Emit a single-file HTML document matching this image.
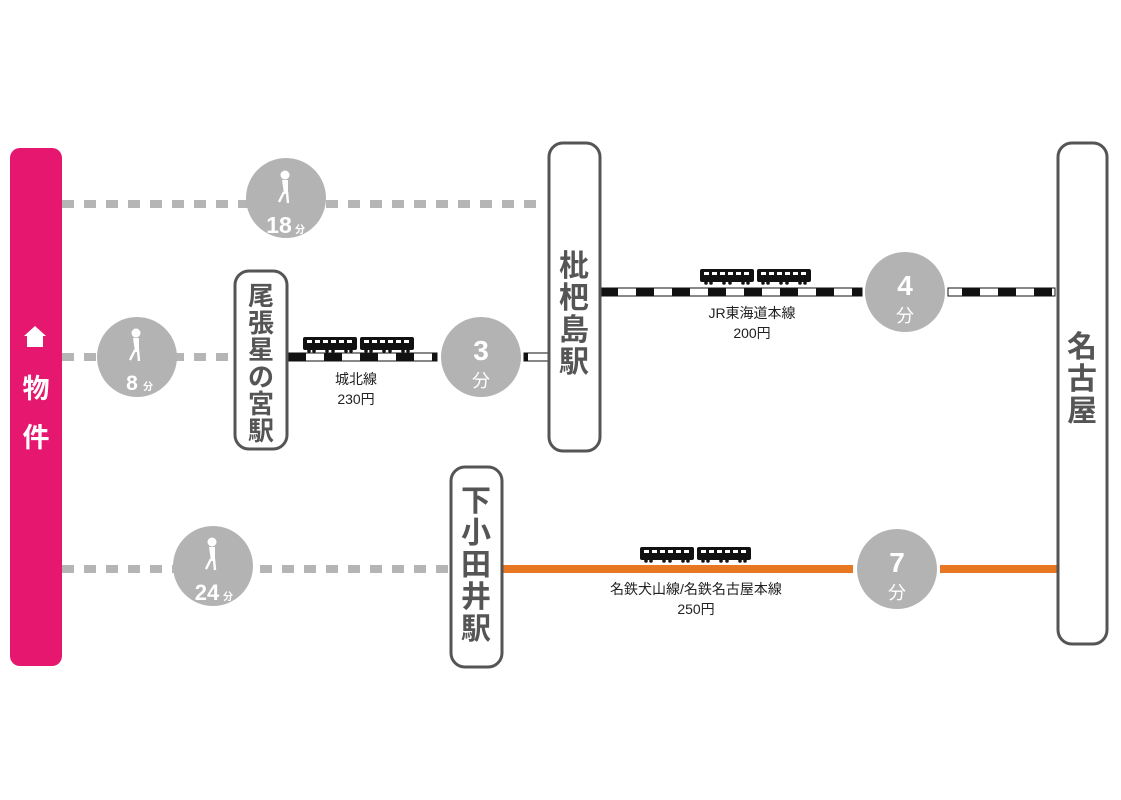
<!DOCTYPE html>
<html><head><meta charset="utf-8"><style>
html,body{margin:0;padding:0;background:#fff;}
svg{display:block;font-family:"Liberation Sans","Noto Sans CJK JP",sans-serif;}
</style></head><body>
<svg width="1121" height="800" viewBox="0 0 1121 800" xmlns="http://www.w3.org/2000/svg">
<defs>
<g id="car">
<rect x="0" y="0" width="54" height="13" rx="2" fill="#111"/>
<rect x="4" y="3" width="5" height="3" fill="#fff"/><rect x="12" y="3" width="5" height="3" fill="#fff"/><rect x="20" y="3" width="5" height="3" fill="#fff"/><rect x="28" y="3" width="5" height="3" fill="#fff"/><rect x="36" y="3" width="5" height="3" fill="#fff"/><rect x="44" y="3" width="5" height="3" fill="#fff"/>
<circle cx="6" cy="14" r="1.8" fill="#111"/><circle cx="11" cy="14" r="1.8" fill="#111"/><circle cx="24" cy="14" r="1.8" fill="#111"/><circle cx="30" cy="14" r="1.8" fill="#111"/><circle cx="43" cy="14" r="1.8" fill="#111"/><circle cx="48" cy="14" r="1.8" fill="#111"/>
</g>
<g id="train"><use href="#car"/><use href="#car" x="57"/></g>
<g id="walker" fill="#fff" stroke="#fff">
<circle cx="0" cy="-14" r="4.5" stroke="none"/>
<path d="M-3,-9 L3,-9 L3,5 L-1,5 Z" stroke="none"/>
<path d="M-1,3 L-6,13 M2,3 L3,14" stroke-width="2.4" fill="none"/>
</g>
</defs>

<rect x="10" y="148" width="52" height="518" rx="10" fill="#e5176f"/>
<path d="M35,326 L24,336 L27,336 L27,347 L43,347 L43,336 L46,336 Z" fill="#fff"/>
<text x="36" y="398" font-size="27" font-weight="bold" fill="#fff" text-anchor="middle">物</text>
<text x="36" y="447" font-size="27" font-weight="bold" fill="#fff" text-anchor="middle">件</text>

<g stroke="#b5b5b5" stroke-width="8" stroke-dasharray="12 10">
<line x1="62" y1="204" x2="545" y2="204"/>
<line x1="62" y1="357" x2="232" y2="357"/>
<line x1="62" y1="569" x2="450" y2="569"/>
</g>

<g>
<rect x="288" y="353" width="149" height="8" fill="#fff" stroke="#111" stroke-width="1"/>
<line x1="288" y1="357" x2="437" y2="357" stroke="#111" stroke-width="8" stroke-dasharray="18 18"/>
<rect x="524" y="353" width="24" height="8" fill="#fff" stroke="#111" stroke-width="1"/>
<line x1="524" y1="357" x2="528" y2="357" stroke="#111" stroke-width="8"/>
<rect x="600" y="288" width="262" height="8" fill="#fff" stroke="#111" stroke-width="1"/>
<line x1="600" y1="292" x2="862" y2="292" stroke="#111" stroke-width="8" stroke-dasharray="18 18"/>
<rect x="948" y="288" width="107" height="8" fill="#fff" stroke="#111" stroke-width="1"/>
<line x1="962" y1="292" x2="1055" y2="292" stroke="#111" stroke-width="8" stroke-dasharray="18 18"/>
</g>
<rect x="502" y="565" width="351" height="8" fill="#e87722"/>
<rect x="940" y="565" width="117" height="8" fill="#e87722"/>

<use href="#train" x="303" y="337"/>
<use href="#train" x="700" y="269"/>
<use href="#train" x="640" y="547"/>

<g font-size="14" fill="#222" text-anchor="middle">
<text x="356" y="384">城北線</text><text x="356" y="404">230円</text>
<text x="752" y="318">JR東海道本線</text><text x="752" y="338">200円</text>
<text x="696" y="594">名鉄犬山線/名鉄名古屋本線</text><text x="696" y="614">250円</text>
</g>

<g fill="#b3b3b3">
<circle cx="286" cy="198" r="40"/>
<circle cx="137" cy="357" r="40"/>
<circle cx="213" cy="566" r="40"/>
<circle cx="481" cy="357" r="40"/>
<circle cx="905" cy="292" r="40"/>
<circle cx="897" cy="569" r="40"/>
</g>
<use href="#walker" x="285" y="189"/>
<use href="#walker" x="136" y="347"/>
<use href="#walker" x="212" y="556"/>
<g fill="#fff" font-weight="bold">
<text x="279" y="233" font-size="23" text-anchor="middle">18</text><text x="295" y="233" font-size="10">分</text>
<text x="132" y="390" font-size="21" text-anchor="middle">8</text><text x="143" y="390" font-size="10">分</text>
<text x="207" y="600" font-size="22" text-anchor="middle">24</text><text x="223" y="600" font-size="10">分</text>
<text x="481" y="360" font-size="28" text-anchor="middle">3</text><text x="481" y="387" font-size="18" text-anchor="middle" font-weight="normal">分</text>
<text x="905" y="295" font-size="28" text-anchor="middle">4</text><text x="905" y="322" font-size="18" text-anchor="middle" font-weight="normal">分</text>
<text x="897" y="572" font-size="28" text-anchor="middle">7</text><text x="897" y="599" font-size="18" text-anchor="middle" font-weight="normal">分</text>
</g>

<g fill="#fff" stroke="#555" stroke-width="3">
<rect x="235" y="271" width="52" height="178" rx="14"/>
<rect x="549" y="143" width="51" height="308" rx="14"/>
<rect x="1058" y="143" width="49" height="501" rx="14"/>
<rect x="451" y="467" width="51" height="200" rx="14"/>
</g>
<g fill="#555" font-size="30" font-weight="bold" text-anchor="middle">
<g font-size="26">
<text x="261" y="305">尾</text><text x="261" y="332">張</text><text x="261" y="359">星</text><text x="261" y="386">の</text><text x="261" y="413">宮</text><text x="261" y="440">駅</text>
</g>
<text x="574" y="276">枇</text><text x="574" y="308">杷</text><text x="574" y="340">島</text><text x="574" y="372">駅</text>
<text x="1082" y="357">名</text><text x="1082" y="389">古</text><text x="1082" y="421">屋</text>
<text x="476" y="511">下</text><text x="476" y="543">小</text><text x="476" y="575">田</text><text x="476" y="607">井</text><text x="476" y="639">駅</text>
</g>
</svg>
</body></html>
